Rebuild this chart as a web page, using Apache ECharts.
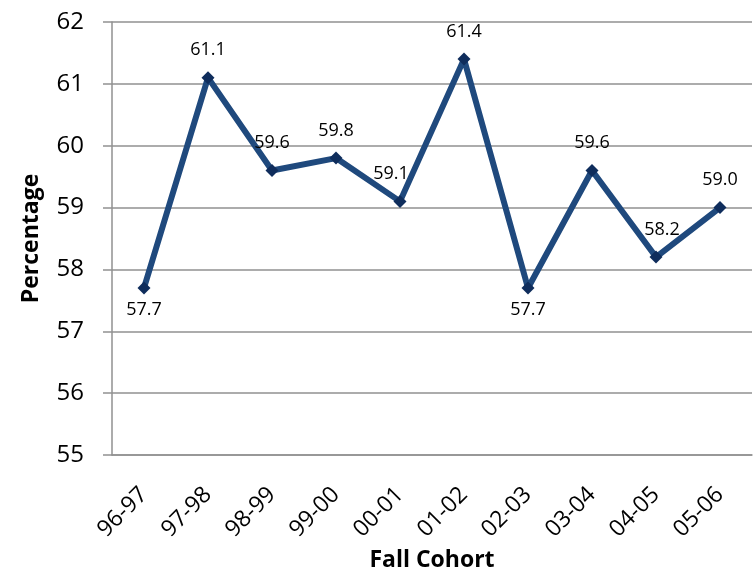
<!DOCTYPE html>
<html>
<head>
<meta charset="utf-8">
<script src="https://cdn.jsdelivr.net/npm/echarts@6/dist/echarts.min.js"></script>
<style>
  html, body { margin: 0; padding: 0; background: #fff; }
  #box { width: 753px; height: 570px; }
</style>
</head>
<body>
<div id="box"></div>
<script>
// cohorts and retention rates
let cohorts = ["96-97", "97-98", "98-99", "99-00", "00-01", "01-02", "02-03", "03-04", "04-05", "05-06"];
let rates = [57.7, 61.1, 59.6, 59.8, 59.1, 61.4, 57.7, 59.6, 58.2, 59.0];
// where each value label sits (Excel put a few off-centre)
let labelPos = ["bottom", "top", "top", "top", "top", "top", "bottom", "top", "top", "top"];
let labelShift = [[0, 0], [0, -6], [0, -6], [0, -6], [-9, -6], [0, -6], [0, 0], [0, -6], [6, -6], [0, -6]];

let font = "'Open Sans', 'Liberation Sans', sans-serif";
let axisGray = "#919191";

let chart = echarts.init(document.getElementById("box"), null, { renderer: "canvas" });

let seriesData = rates.map((v, i) => ({
  value: v,
  label: {
    position: labelPos[i],
    offset: labelShift[i]
  }
}));

let option = {
  animation: false,
  grid: { left: 112, right: 1, top: 22, bottom: 115, containLabel: false, outerBoundsMode: "none" },
  xAxis: {
    type: "category",
    data: cohorts,
    name: "Fall Cohort",
    nameLocation: "middle",
    nameGap: 91,
    nameTextStyle: { fontFamily: font, fontWeight: "bold", fontSize: 23, color: "#000" },
    axisLine: { lineStyle: { color: axisGray, width: 1.5 } },
    axisTick: { length: 8, lineStyle: { color: axisGray, width: 1.5 } },
    axisLabel: {
      rotate: 45,
      fontFamily: font,
      fontSize: 23,
      color: "#000",
      margin: 36,
      interval: 0
    }
  },
  yAxis: {
    type: "value",
    min: 55,
    max: 62,
    interval: 1,
    name: "Percentage",
    nameLocation: "middle",
    nameGap: 69,
    nameTextStyle: { fontFamily: font, fontWeight: "bold", fontSize: 23, color: "#000" },
    axisLine: { show: true, lineStyle: { color: axisGray, width: 1.5 } },
    axisTick: { show: true, length: 9, lineStyle: { color: axisGray, width: 1.5 } },
    splitLine: { lineStyle: { color: axisGray, width: 1.5 } },
    axisLabel: { fontFamily: font, fontSize: 24, color: "#000", margin: 28 }
  },
  series: [
    {
      type: "line",
      data: seriesData,
      symbol: "diamond",
      symbolSize: 13,
      itemStyle: { color: "#0f2d5c" },
      lineStyle: { color: "#1f497d", width: 6 },
      label: {
        show: true,
        fontFamily: font,
        fontSize: 18,
        color: "#000",
        distance: 6,
        formatter: p => p.value.toFixed(1)
      }
    }
  ]
};

chart.setOption(option);
</script>
</body>
</html>
